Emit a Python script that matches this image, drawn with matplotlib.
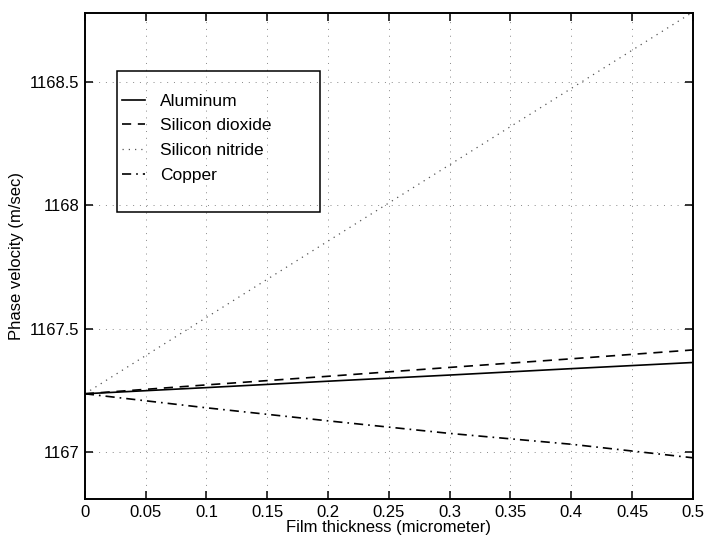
import numpy as np
import matplotlib.pyplot as plt
from matplotlib.patches import Rectangle

plt.rcParams['font.family'] = ['Liberation Sans', 'DejaVu Sans']

# film thickness (micrometer)
thickness = [0.0, 0.1, 0.2, 0.3, 0.4, 0.5]

# phase velocity (m/sec)
aluminum = [1167.235, 1167.260, 1167.286, 1167.311, 1167.337, 1167.362]
silicon_dioxide = [1167.235, 1167.271, 1167.306, 1167.342, 1167.377, 1167.413]
silicon_nitride = [1167.235, 1167.545, 1167.855, 1168.165, 1168.475, 1168.785]
copper = [1167.235, 1167.178, 1167.125, 1167.074, 1167.030, 1166.975]

xticks = [0, 0.05, 0.1, 0.15, 0.2, 0.25, 0.3, 0.35, 0.4, 0.45, 0.5]
yticks = [1167, 1167.5, 1168, 1168.5]

fig = plt.figure(figsize=(7.07, 5.35), dpi=100)
ax = fig.add_axes([0.120, 0.067, 0.860, 0.909])

ax.plot(thickness, aluminum, color='black', linestyle='-', linewidth=1.2,
        label='Aluminum')
ax.plot(thickness, silicon_dioxide, color='black', linestyle=(0, (5.5, 4)),
        linewidth=1.2, label='Silicon dioxide')
ax.plot(thickness, silicon_nitride, color='#555555', linestyle=(0, (1, 4)),
        linewidth=0.9, label='Silicon nitride')
ax.plot(thickness, copper, color='black', linestyle=(0, (5.5, 3, 1, 3)),
        linewidth=1.2, label='Copper')

ax.set_xlim(0, 0.5)
ax.set_ylim(1166.807, 1168.782)
ax.set_xticks(xticks)
ax.set_xticklabels([('%g' % t) for t in xticks])
ax.set_yticks(yticks)
ax.set_yticklabels([('%g' % t) for t in yticks])

ax.grid(True, linestyle=(0, (1, 6)), color='#888888', linewidth=0.7)
ax.tick_params(direction='in', top=True, right=True, length=6, width=1.1,
               labelsize=12, pad=4)
for s in ax.spines.values():
    s.set_linewidth(1.4)

ax.set_xlabel('Film thickness (micrometer)', fontsize=12, labelpad=0)
ax.set_ylabel('Phase velocity (m/sec)', fontsize=12, labelpad=4)

# legend entries without frame, MATLAB-like box drawn separately
leg = ax.legend(loc='upper left', bbox_to_anchor=(0.061, 0.834),
                fontsize=12.5, handlelength=1.32, handletextpad=0.86,
                labelspacing=0.55, borderpad=0, borderaxespad=0,
                frameon=False)
ax.add_patch(Rectangle((0.053, 0.590), 0.333, 0.290, transform=ax.transAxes,
                       fill=False, edgecolor='black', linewidth=1.1,
                       zorder=5))

fig.savefig('out.png', dpi=100)
